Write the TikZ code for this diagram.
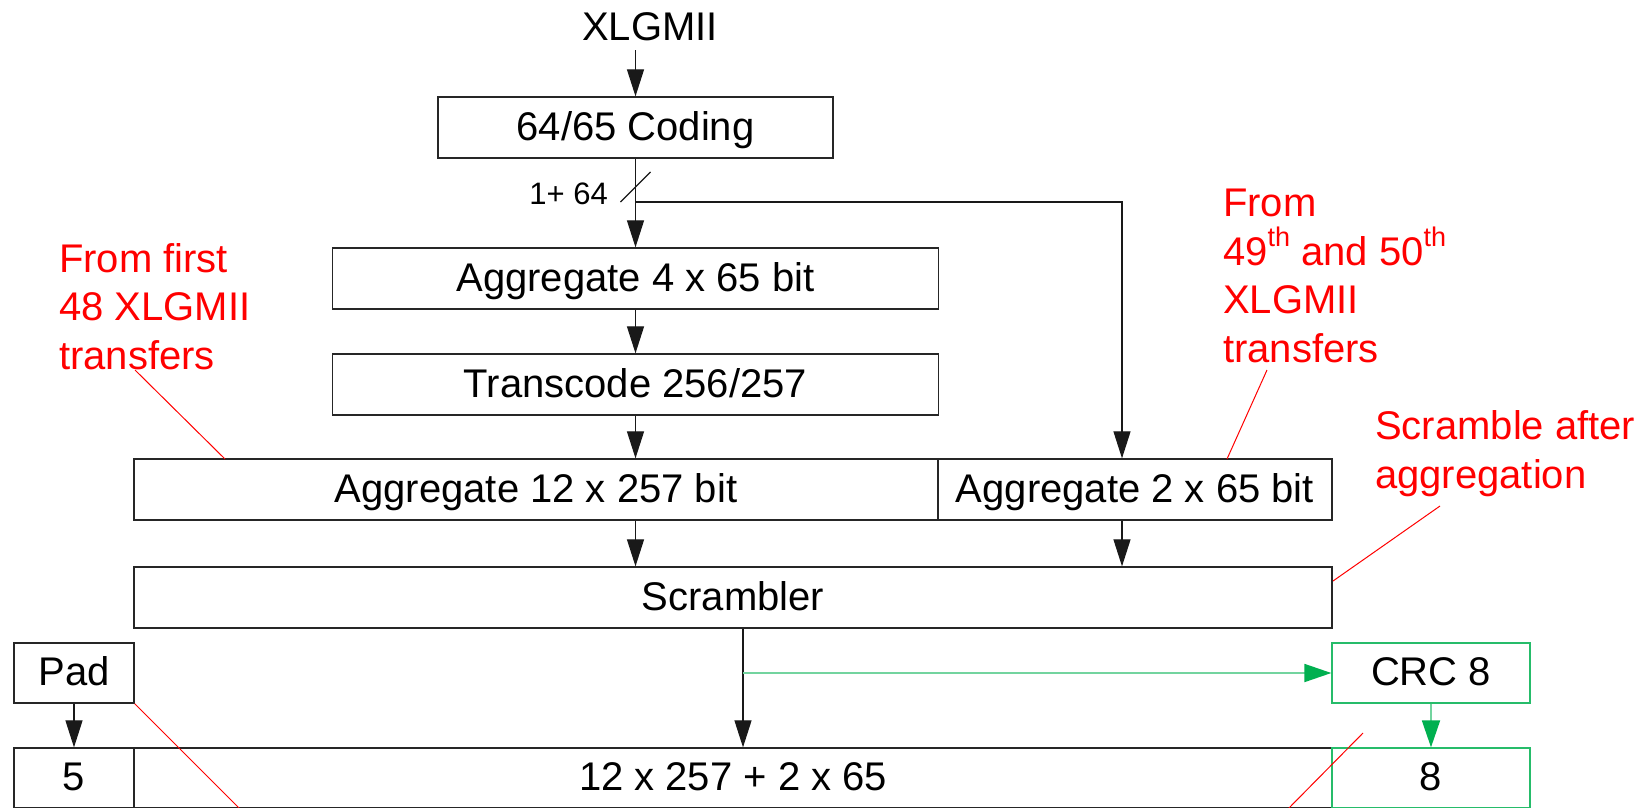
\documentclass[tikz,border=0pt]{standalone}
\usepackage{fontspec}
\setmainfont{Liberation Sans}
\usetikzlibrary{arrows.meta}
\definecolor{crcgreen}{HTML}{00B050}
\definecolor{notered}{HTML}{FF0000}
\newcommand{\ordsup}[1]{\raisebox{19pt}{\fontsize{27}{27}\selectfont #1}}
\begin{document}
\begin{tikzpicture}[x=1pt,y=-1pt,
  every node/.style={font=\fontsize{40}{48.5}\selectfont},
  blk/.style={draw=black!85, line width=1.3pt, inner sep=0pt,
    minimum height=61pt, text height=29pt, text depth=4pt},
  gblk/.style={blk, draw=crcgreen!85},
  flow/.style={draw=black!90, line width=1.2pt,
    -{Triangle[length=27pt,width=17pt]}},
  gflow/.style={draw=crcgreen!55, line width=1.8pt,
    -{Triangle[length=27pt,width=18pt,color=crcgreen]}},
  lead/.style={draw=notered, line width=1pt},
  note/.style={text=notered, anchor=base west, align=left, inner sep=0pt}]

% page frame
\useasboundingbox (0,0) rectangle (1647,807);
\fill[white] (0,0) rectangle (1647,807);
\clip (0,0) rectangle (1647,807);

% processing blocks
\node[blk, minimum width=395pt] (code) at (635.5,127.5) {64/65 Coding};
\node[blk, minimum width=606pt] (agg4) at (635.5,278.5) {Aggregate 4 x 65 bit};
\node[blk, minimum width=606pt] (trans) at (635.5,384.5) {Transcode 256/257};
\node[blk, minimum width=804pt] (agg12) at (536,489.5) {Aggregate 12 x 257 bit};
\node[blk, minimum width=394pt] (agg2) at (1135,489.5) {Aggregate 2 x 65 bit};
\node[blk, minimum width=1198pt] (scr) at (733,597.5) {Scrambler};
\node[blk, minimum width=120pt, minimum height=60pt] (pad) at (74,673) {Pad};
\node[gblk, minimum width=198pt, minimum height=60pt] (crc) at (1431,673) {CRC 8};

% output word
\node[blk, minimum width=120pt, minimum height=60pt] (b5) at (74,778) {5};
\node[blk, minimum width=1198pt, minimum height=60pt] (bmid) at (733,778) {12 x 257 + 2 x 65};
\node[gblk, minimum width=198pt, minimum height=60pt] (b8) at (1431,778) {8};

% input
\node[anchor=base, inner sep=0pt] (xin) at (650,40) {XLGMII};
\coordinate (xinEnd) at (635.5,50);
\draw[flow] (xinEnd) -- (code.north);

% main path
\coordinate (split) at (635.5,202);
\coordinate (bus) at (635.5,187);
\coordinate (tap) at (1122,202);
\draw[flow] (code.south) -- (agg4.north);
\draw[draw=black!90, line width=1.2pt] ([shift={(-15,15)}]bus) -- ([shift={(15,-15)}]bus);
\node[anchor=base east, inner sep=0pt, font=\fontsize{31}{36}\selectfont] (width) at (608,204) {1+ 64};
\draw[flow] (agg4.south) -- (trans.north);
\draw[flow] (trans.south) -- (trans.south |- agg12.north);
\draw[flow] (split) -- (tap) -- (tap |- agg2.north);
\draw[flow] (trans.south |- agg12.south) -- (trans.south |- scr.north);
\draw[flow] (tap |- agg2.south) -- (tap |- scr.north);

% scrambler output, pad and CRC
\coordinate (scrOut) at ([xshift=10pt]scr.south);
\draw[flow] (scrOut) -- (scrOut |- bmid.north);
\draw[gflow] (scrOut |- crc.west) -- (crc.west);
\draw[flow] (pad.south) -- (b5.north);
\draw[gflow] (crc.south) -- (b8.north);

% notes (anchored at the baseline of their last line)
\node[note] (n1) at (59,369) {From first\\48 XLGMII\\transfers};
\node[note] (n2) at (1223,362) {From\\49\ordsup{th} and 50\ordsup{th}\\XLGMII\\transfers};
\node[note] (n3) at (1375,488) {Scramble after\\aggregation};

\coordinate (n1a) at (135,370);
\coordinate (n1b) at (225,459);
\coordinate (n2a) at (1267,370);
\coordinate (n2b) at (1227,459);
\coordinate (n3a) at (1440,506);
\coordinate (n3b) at (1333,581);
\coordinate (n4b) at (242,811);
\coordinate (n5a) at (1363,733);
\coordinate (n5b) at (1286,811);
\draw[lead] (n1a) -- (n1b);
\draw[lead] (n2a) -- (n2b);
\draw[lead] (n3a) -- (n3b);
\draw[lead] (pad.south east) -- (n4b);
\draw[lead] (n5a) -- (n5b);
\end{tikzpicture}
\end{document}
